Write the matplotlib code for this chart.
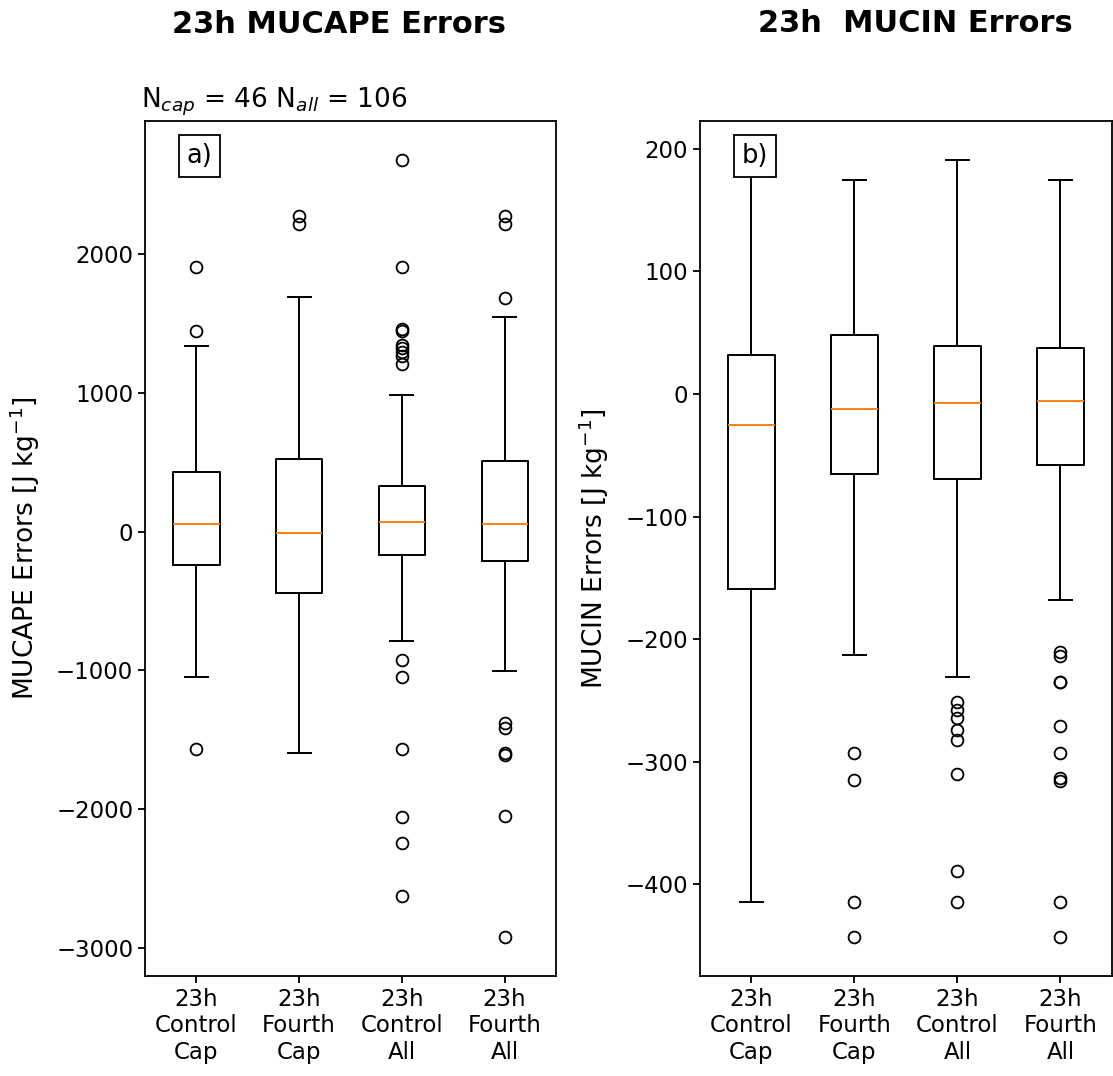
import matplotlib
matplotlib.use('Agg')
import matplotlib.pyplot as plt

labels = ['23h\nControl\nCap', '23h\nFourth\nCap', '23h\nControl\nAll', '23h\nFourth\nAll']

# MUCAPE error box statistics
cape_med = [57, -12, 67, 57]
cape_q1 = [-243, -442, -171, -215]
cape_q3 = [426, 520, 328, 510]
cape_whislo = [-1045, -1595, -790, -1007]
cape_whishi = [1336, 1686, 980, 1545]
cape_fliers = [[1904, 1447, -1564],
               [2270, 2215],
               [2675, 1904, 1455, 1440, 1345, 1320, 1295, 1265, 1205,
                -925, -1045, -1564, -2057, -2241, -2625],
               [2270, 2215, 1684, -1380, -1411, -1595, -1607, -2050, -2920]]

# MUCIN error box statistics
cin_med = [-25, -12, -7, -6]
cin_q1 = [-159, -65, -69, -58]
cin_q3 = [31.5, 48.4, 39.4, 37.3]
cin_whislo = [-414, -213, -231, -168]
cin_whishi = [182, 175, 191, 175]
cin_fliers = [[],
              [-293, -315, -414, -443],
              [-251, -258, -264, -274, -282, -310, -389, -414],
              [-210, -214, -235, -235, -271, -293, -313, -316, -414, -443]]


def make_stats(med, q1, q3, lo, hi, fl):
    out = []
    for i in range(len(labels)):
        out.append(dict(med=med[i], q1=q1[i], q3=q3[i], whislo=lo[i],
                        whishi=hi[i], fliers=fl[i], label=labels[i]))
    return out


plt.rcParams['axes.linewidth'] = 1.3
plt.rcParams['xtick.major.width'] = 1.3
plt.rcParams['ytick.major.width'] = 1.3
plt.rcParams['xtick.major.size'] = 5
plt.rcParams['ytick.major.size'] = 5
plt.rcParams['xtick.labelsize'] = 16.5
plt.rcParams['ytick.labelsize'] = 16.5

lw = 1.4
boxkw = dict(widths=0.45,
             boxprops=dict(color='black', linewidth=lw),
             whiskerprops=dict(color='black', linewidth=lw),
             capprops=dict(color='black', linewidth=lw),
             medianprops=dict(color='#ff7f0e', linewidth=lw),
             flierprops=dict(marker='o', markerfacecolor='none',
                             markeredgecolor='black', markersize=8.5,
                             markeredgewidth=1.3, linestyle='none'))

fig = plt.figure(figsize=(11.13, 10.76), dpi=100)
ax1 = fig.add_axes([0.1303, 0.0929, 0.3693, 0.7946])
ax2 = fig.add_axes([0.6289, 0.0929, 0.3702, 0.7946])

ax1.bxp(make_stats(cape_med, cape_q1, cape_q3, cape_whislo, cape_whishi, cape_fliers), **boxkw)
ax2.bxp(make_stats(cin_med, cin_q1, cin_q3, cin_whislo, cin_whishi, cin_fliers), **boxkw)

ax1.set_ylabel(r'MUCAPE Errors [J kg$^{-1}$]', fontsize=19)
ax1.yaxis.set_label_coords(-0.25, 0.5)
ax2.set_ylabel(r'MUCIN Errors [J kg$^{-1}$]', fontsize=19)
ax2.yaxis.set_label_coords(-0.215, 0.5)

for ax, tag in [(ax1, 'a)'), (ax2, 'b)')]:
    ax.text(0.133, 0.959, tag, transform=ax.transAxes, ha='center', va='center',
            fontsize=18.5, zorder=10,
            bbox=dict(boxstyle='square,pad=0.3', facecolor='white',
                      edgecolor='black', linewidth=1.3))

fig.text(339 / 1113, 1 - 33 / 1076, '23h MUCAPE Errors', ha='center', va='baseline',
         fontsize=22, fontweight='bold')
fig.text(915 / 1113, 1 - 32 / 1076, '23h  MUCIN Errors', ha='center', va='baseline',
         fontsize=22, fontweight='bold')
fig.text(141 / 1113, 1 - 108 / 1076, r'N$_{cap}$ = 46 N$_{all}$ = 106', ha='left',
         va='baseline', fontsize=19)

fig.savefig('out.png', dpi=100)
